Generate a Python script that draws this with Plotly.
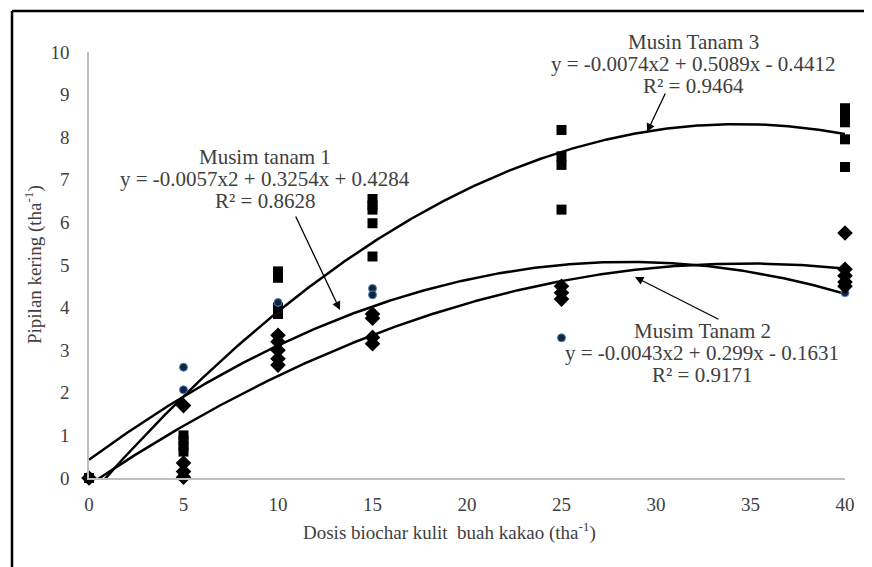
import numpy as np
import plotly.graph_objects as go

# ---- data ----
sq_x = [0, 5, 5, 5, 5, 10, 10, 10, 10, 15, 15, 15, 15, 15, 25, 25, 25, 25, 40, 40, 40, 40, 40]
sq_y = [0, 1.0, 0.88, 0.75, 0.62, 4.85, 4.7, 4.0, 3.85, 6.55, 6.4, 6.3, 5.98, 5.2,
        8.17, 7.55, 7.35, 6.3, 8.68, 8.5, 8.35, 7.95, 7.3]
dm_x = [0, 5, 5, 5, 5, 10, 10, 10, 10, 10, 15, 15, 15, 15, 25, 25, 25, 40, 40, 40, 40, 40]
dm_y = [0, 1.7, 0.35, 0.15, 0.02, 3.35, 3.2, 3.0, 2.8, 2.65, 3.85, 3.75, 3.3, 3.15,
        4.5, 4.35, 4.2, 5.75, 4.9, 4.75, 4.6, 4.5]
ci_x = [0, 5, 5, 10, 10, 15, 15, 25, 40, 40]
ci_y = [0, 2.6, 2.07, 4.12, 3.3, 4.45, 4.3, 3.29, 4.6, 4.35]

# trendline coefficients (a, b, c) for y = a x^2 + b x + c, as printed on the chart
coef_mt1 = [-0.0057, 0.3254, 0.4284]
coef_mt2 = [-0.0043, 0.299, -0.1631]
coef_mt3 = [-0.0074, 0.5089, -0.4412]

x_ticks = [0, 5, 10, 15, 20, 25, 30, 35, 40]
y_ticks = [0, 1, 2, 3, 4, 5, 6, 7, 8, 9, 10]

FONT = "Liberation Serif"
TXT = "#404040"

fig = go.Figure()

xs = np.linspace(0, 40, 401)
for a, b, c in (coef_mt1, coef_mt2, coef_mt3):
    fig.add_trace(go.Scatter(x=xs, y=a * xs ** 2 + b * xs + c, mode="lines",
                             line=dict(color="black", width=2.5), hoverinfo="skip",
                             showlegend=False))

fig.add_trace(go.Scatter(x=sq_x, y=sq_y, mode="markers", cliponaxis=False, showlegend=False,
                         marker=dict(symbol="square", size=10, color="black")))
fig.add_trace(go.Scatter(x=ci_x, y=ci_y, mode="markers", cliponaxis=False, showlegend=False,
                         marker=dict(symbol="circle", size=8, color="#10253F",
                                     line=dict(color="#4F81BD", width=1))))
fig.add_trace(go.Scatter(x=dm_x, y=dm_y, mode="markers", cliponaxis=False, showlegend=False,
                         marker=dict(symbol="diamond", size=12, color="black")))

W, H = 872, 567
OFF = 8  # page body margin
L, T, pw, ph = 81, 44, 756, 426
R = W - L - pw
B = H - T - ph

def px2paper(px, py):
    fx, fy = px - OFF, py - OFF
    return (fx - L) / pw, (T + ph - fy) / ph

annots = []
def text_block(cx, cy, lines, gap=22):
    for i, s in enumerate(lines):
        x, y = px2paper(cx, cy + i * gap)
        annots.append(dict(x=x, y=y, xref="paper", yref="paper", text=s, showarrow=False,
                           font=dict(family=FONT, size=21, color=TXT),
                           xanchor="center", yanchor="middle"))

text_block(265, 157, ["Musim tanam 1", "y = -0.0057x2 + 0.3254x + 0.4284", "R² = 0.8628"])
text_block(693, 42, ["Musin Tanam 3", "y = -0.0074x2 + 0.5089x - 0.4412", "R² = 0.9464"])
text_block(702, 331, ["Musim Tanam 2", "y = -0.0043x2 + 0.299x - 0.1631", "R² = 0.9171"])

def arrow(tail, tip):
    tx, ty = px2paper(*tip)
    annots.append(dict(x=tx, y=ty, xref="paper", yref="paper", text="", showarrow=True,
                       ax=tail[0] - tip[0], ay=tail[1] - tip[1], axref="pixel", ayref="pixel",
                       arrowhead=2, arrowsize=1.3, arrowwidth=1.3, arrowcolor="black"))

arrow((295, 215), (340, 310))
arrow((666, 92), (647, 132))
arrow((720, 320), (635, 277))

# axis titles
x, y = px2paper(449, 531)
annots.append(dict(x=x, y=y, xref="paper", yref="paper", showarrow=False,
                   text="Dosis biochar kulit  buah kakao (tha<sup>-1</sup>)",
                   font=dict(family=FONT, size=19, color=TXT), xanchor="center", yanchor="middle"))
x, y = px2paper(33, 265)
annots.append(dict(x=x, y=y, xref="paper", yref="paper", showarrow=False, textangle=-90,
                   text="Pipilan kering (tha<sup>-1</sup>)",
                   font=dict(family=FONT, size=19, color=TXT), xanchor="center", yanchor="middle"))

# outer frame (left and top edges visible)
fx0, fy0 = px2paper(12, 11)
shapes = [
    dict(type="line", xref="paper", yref="paper", x0=fx0, x1=fx0, y0=-0.5, y1=fy0,
         line=dict(color="black", width=2.5)),
    dict(type="line", xref="paper", yref="paper", x0=fx0, x1=1.2, y0=fy0, y1=fy0,
         line=dict(color="black", width=2.5)),
]

fig.update_layout(
    width=W, height=H, margin=dict(l=L, r=R, t=T, b=B, autoexpand=False),
    paper_bgcolor="white", plot_bgcolor="white",
    font=dict(family=FONT, size=19, color=TXT),
    annotations=annots, shapes=shapes, showlegend=False,
    xaxis=dict(range=[0, 40], tickvals=x_ticks, showgrid=False, zeroline=False,
               showline=True, linecolor="#BFBFBF", linewidth=1.5, ticks="",
               tickfont=dict(family=FONT, size=19, color=TXT), ticklabelstandoff=8),
    yaxis=dict(range=[0, 10], tickvals=y_ticks, showgrid=False, zeroline=False,
               showline=True, linecolor="#BFBFBF", linewidth=1.5, ticks="",
               tickfont=dict(family=FONT, size=19, color=TXT), ticklabelstandoff=14),
)

fig.write_html("out.html")
